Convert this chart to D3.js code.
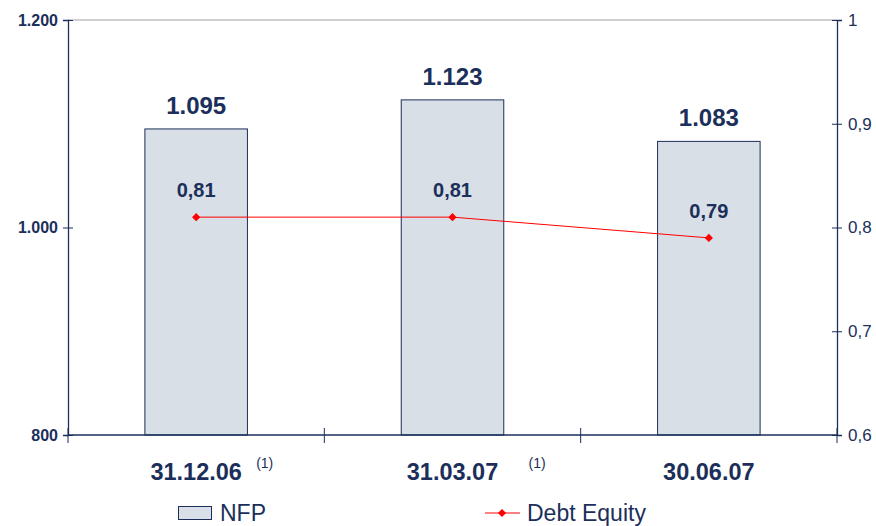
<!DOCTYPE html>
<html>
<head>
<meta charset="utf-8">
<script src="https://cdn.jsdelivr.net/npm/d3@7"></script>
<style>
  html, body { margin: 0; padding: 0; background: #fff; }
  svg text { font-family: Arial, "Liberation Sans", Helvetica, sans-serif; }
</style>
</head>
<body>
<svg id="chart" width="876" height="526"></svg>
<script>
// Net financial position (left axis) and debt/equity ratio (right axis)
const categories = ["31.12.06", "31.03.07", "30.06.07"];
const notes = ["(1)", "(1)", ""];
const nfp = [1095, 1123, 1083];
const nfpLabels = ["1.095", "1.123", "1.083"];
const debtEquity = [0.81, 0.81, 0.79];
const debtEquityLabels = ["0,81", "0,81", "0,79"];
const leftTicks = [800, 1000, 1200];
const leftTickLabels = ["800", "1.000", "1.200"];
const rightTicks = [0.6, 0.7, 0.8, 0.9, 1];
const rightTickLabels = ["0,6", "0,7", "0,8", "0,9", "1"];

const navy = "#1b2f5a";
const svg = d3.select("#chart");
const m = { left: 68, right: 837, top: 20, bottom: 435 };

const xBand = d3.scaleBand().domain(categories).range([m.left, m.right]);
const cx = d => xBand(d) + xBand.bandwidth() / 2;
const barW = xBand.bandwidth() * 0.4;
const yL = d3.scaleLinear().domain([800, 1200]).range([m.bottom, m.top]);
const yR = d3.scaleLinear().domain([0.6, 1]).range([m.bottom, m.top]);

// top frame line
svg.append("line").attr("x1", m.left).attr("x2", m.right).attr("y1", m.top).attr("y2", m.top)
  .attr("stroke", "#a0a0a0").attr("stroke-width", 1);

// bars
svg.selectAll("rect.bar").data(categories).join("rect")
  .attr("class", "bar")
  .attr("x", d => cx(d) - barW / 2)
  .attr("width", barW)
  .attr("y", (d, i) => yL(nfp[i]))
  .attr("height", (d, i) => yL(800) - yL(nfp[i]))
  .attr("fill", "#d8dfe6").attr("stroke", navy).attr("stroke-width", 1);

// bar value labels
svg.selectAll("text.nfp").data(categories).join("text")
  .attr("x", d => cx(d))
  .attr("y", (d, i) => yL(nfp[i]) - 15)
  .attr("text-anchor", "middle")
  .style("font-weight", "bold").style("font-size", "24px")
  .attr("fill", navy).text((d, i) => nfpLabels[i]);

// left axis
const leftAxis = d3.axisLeft(yL).tickValues(leftTicks).tickSize(5).tickPadding(5)
  .tickFormat((d, i) => leftTickLabels[i]);
const gL = svg.append("g").attr("transform", `translate(${m.left},0)`).call(leftAxis);
gL.select(".domain").attr("stroke", navy).attr("stroke-width", 1.3);
gL.selectAll(".tick line").attr("stroke", navy).attr("x2", -5).attr("x1", 5);
gL.selectAll(".tick text").attr("fill", navy)
  .style("font-size", "16px").style("font-weight", "bold");

// right axis
const rightAxis = d3.axisRight(yR).tickValues(rightTicks).tickSize(5).tickPadding(6)
  .tickFormat((d, i) => rightTickLabels[i]);
const gR = svg.append("g").attr("transform", `translate(${m.right},0)`).call(rightAxis);
gR.select(".domain").attr("stroke", navy).attr("stroke-width", 1.3);
gR.selectAll(".tick line").attr("stroke", navy).attr("x1", -5);
gR.selectAll(".tick text").attr("fill", navy).style("font-size", "17px");

// bottom axis with ticks at category boundaries
svg.append("line").attr("x1", m.left).attr("x2", m.right).attr("y1", m.bottom).attr("y2", m.bottom)
  .attr("stroke", navy).attr("stroke-width", 1.3);
const bounds = categories.map(c => xBand(c)).concat([m.right]);
svg.selectAll("line.xt").data(bounds).join("line")
  .attr("x1", d => d).attr("x2", d => d).attr("y1", m.bottom - 7).attr("y2", m.bottom + 8)
  .attr("stroke", navy).attr("stroke-width", 1);

// category labels
svg.selectAll("text.cat").data(categories).join("text")
  .attr("x", d => cx(d))
  .attr("y", 480)
  .attr("text-anchor", "middle")
  .style("font-weight", "bold").style("font-size", "23.5px")
  .attr("fill", navy).text(d => d);
const noteShift = [60, 76, 0];
svg.selectAll("text.note").data(categories).join("text")
  .attr("x", (d, i) => cx(d) + noteShift[i])
  .attr("y", 468)
  .style("font-size", "14px").attr("fill", navy).text((d, i) => notes[i]);

// debt equity line
const line = d3.line().x((d, i) => cx(categories[i])).y(d => yR(d));
svg.append("path").datum(debtEquity).attr("d", line)
  .attr("fill", "none").attr("stroke", "#ff0000").attr("stroke-width", 1);
const marker = d3.symbol().type(d3.symbolSquare).size(34);
svg.selectAll("path.pt").data(debtEquity).join("path")
  .attr("transform", (d, i) => `translate(${cx(categories[i])},${yR(d)}) rotate(45)`)
  .attr("d", marker).attr("fill", "#ff0000");
svg.selectAll("text.de").data(debtEquity).join("text")
  .attr("x", (d, i) => cx(categories[i]))
  .attr("y", d => yR(d) - 20)
  .attr("text-anchor", "middle")
  .style("font-weight", "bold").style("font-size", "20px")
  .attr("fill", navy).text((d, i) => debtEquityLabels[i]);

// legend
const lg = svg.append("g");
lg.append("rect").attr("x", 178.5).attr("y", 506.5).attr("width", 33).attr("height", 13)
  .attr("fill", "#d8dfe6").attr("stroke", navy).attr("stroke-width", 1);
lg.append("text").attr("x", 220).attr("y", 521).style("font-size", "23px").attr("fill", navy).text("NFP");
lg.append("line").attr("x1", 485).attr("x2", 520).attr("y1", 513).attr("y2", 513)
  .attr("stroke", "#ff0000").attr("stroke-width", 1);
lg.append("path").attr("transform", "translate(502,513) rotate(45)").attr("d", marker).attr("fill", "#ff0000");
lg.append("text").attr("x", 527).attr("y", 521).style("font-size", "23px").attr("fill", navy).text("Debt Equity");
</script>
</body>
</html>
